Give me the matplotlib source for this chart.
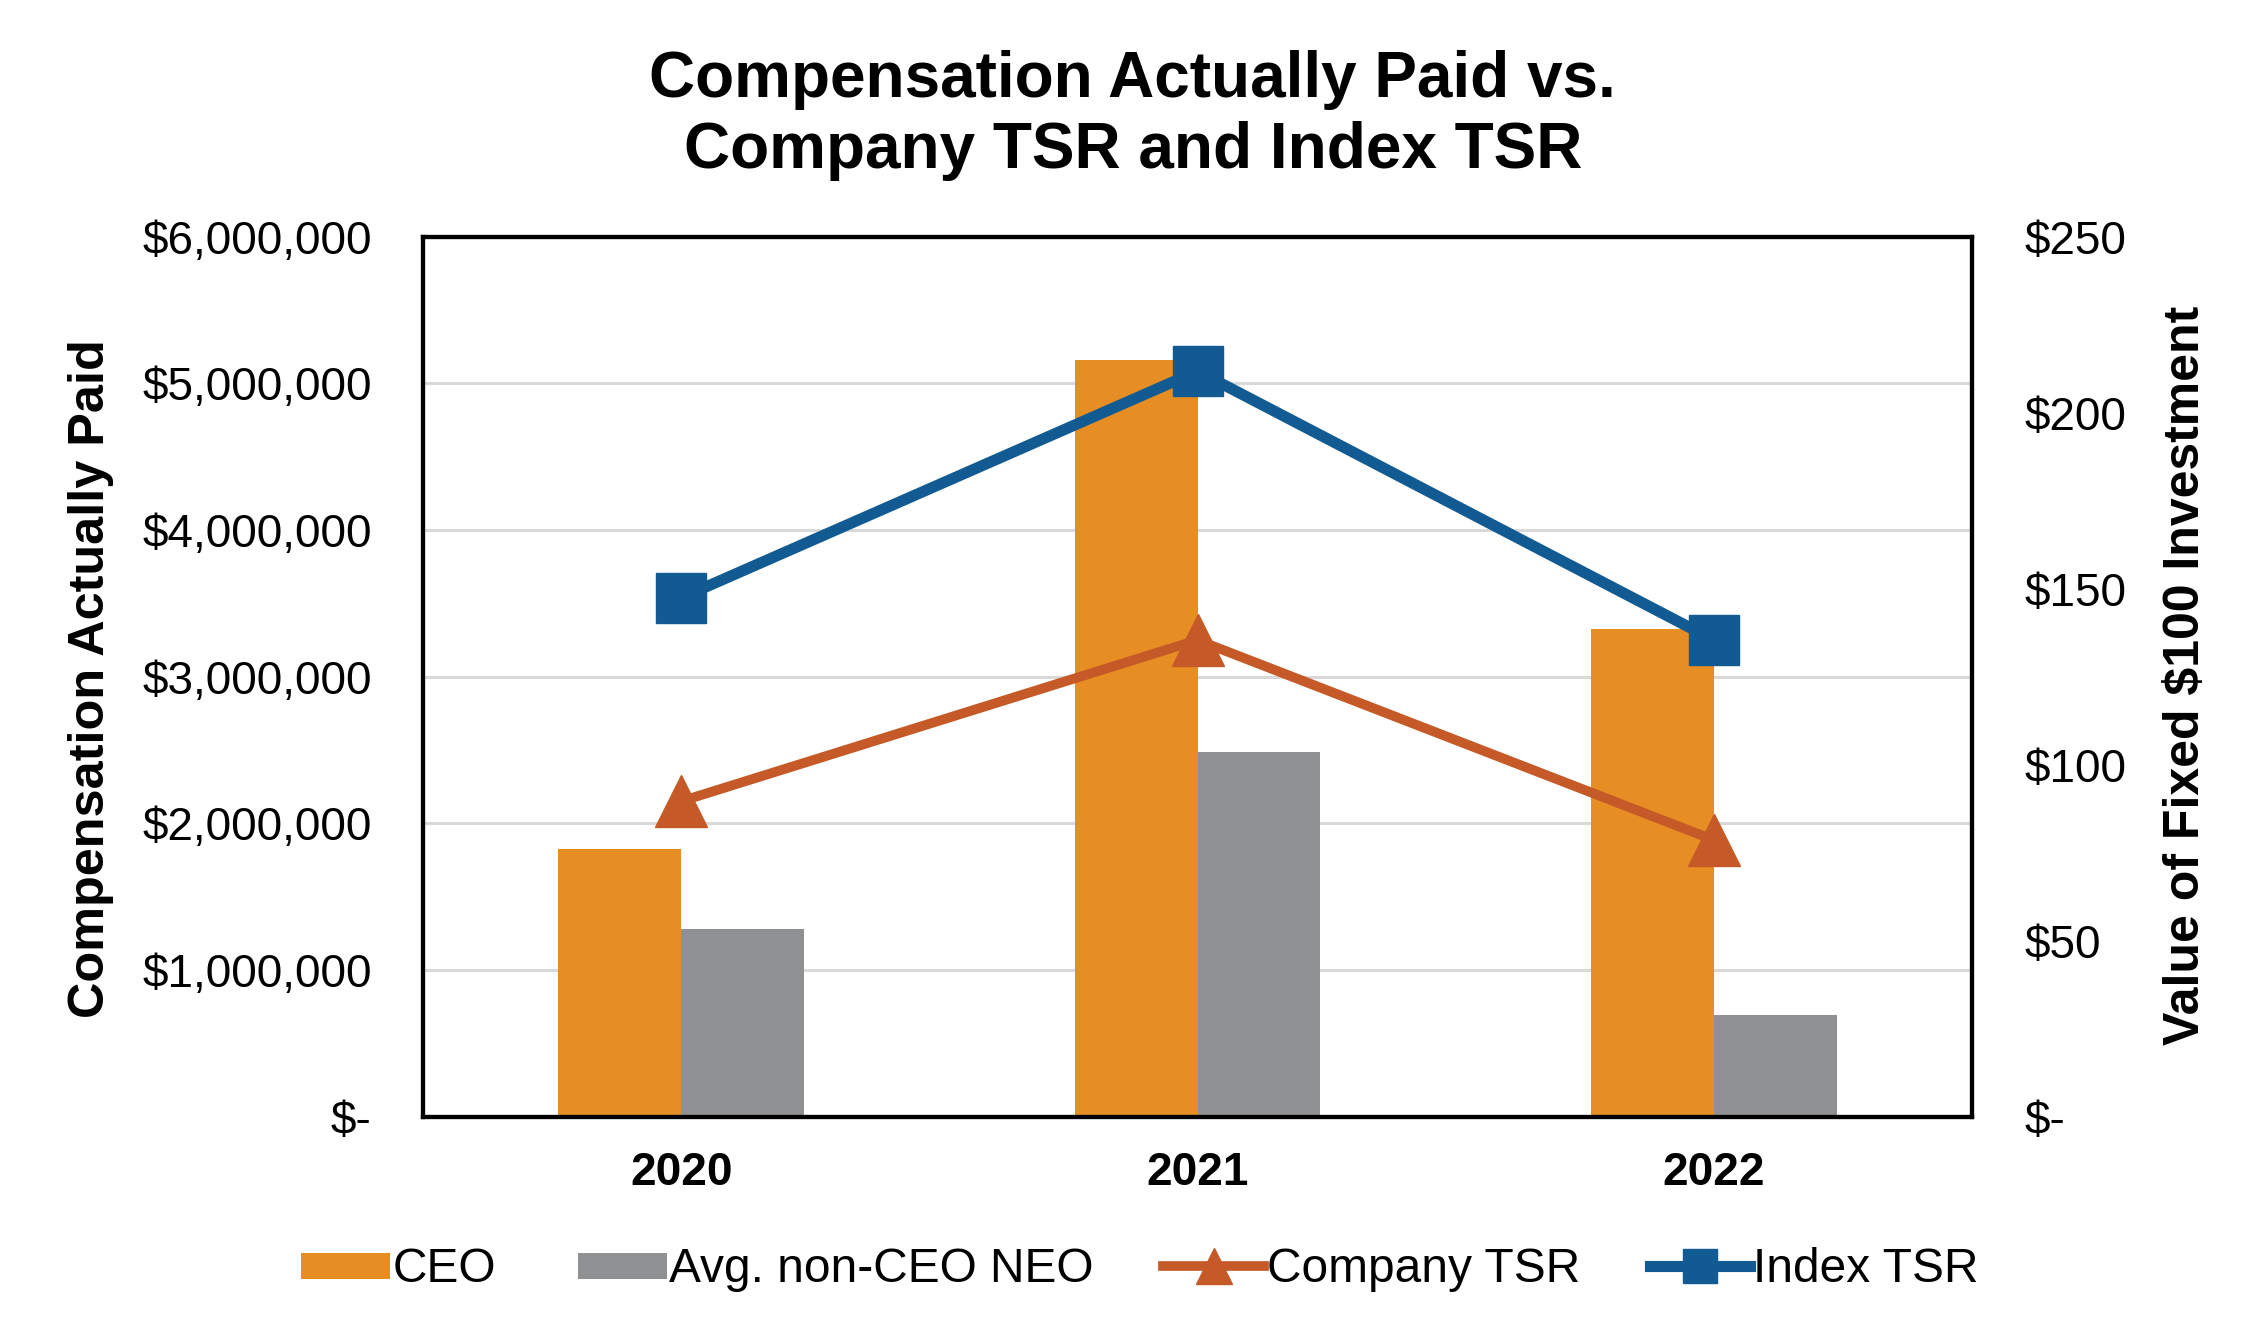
import matplotlib
matplotlib.use("Agg")
import matplotlib.pyplot as plt
import numpy as np
from matplotlib.patches import Rectangle
from matplotlib.legend_handler import HandlerPatch
from matplotlib.lines import Line2D
from matplotlib.ticker import FuncFormatter

# ---- data ----
years = ["2020", "2021", "2022"]
ceo_cap = [1823000, 5157000, 3322000]
neo_cap = [1277000, 2484000, 691000]
company_tsr = [89.6, 135.4, 78.6]
index_tsr = [147.4, 211.8, 135.4]
left_ticks = [0, 1000000, 2000000, 3000000, 4000000, 5000000, 6000000]
right_ticks = [0, 50, 100, 150, 200, 250]

# ---- style ----
plt.rcParams['font.family'] = ['Liberation Sans', 'DejaVu Sans']
C_CEO = '#E68E23'
C_NEO = '#8F9092'
C_COMP = '#C55A28'
C_IDX = '#115B92'

fig = plt.figure(figsize=(22.68, 13.34), dpi=100)
ax = fig.add_axes([0.1865, 0.1629, 0.8695 - 0.1865, 0.8226 - 0.1629])
ax2 = ax.twinx()

x = np.arange(len(years))
w = 0.238
ax.bar(x - w / 2, ceo_cap, width=w, color=C_CEO, zorder=2, label='CEO')
ax.bar(x + w / 2, neo_cap, width=w, color=C_NEO, zorder=2, label='Avg. non-CEO NEO')

ax.set_xlim(-0.5, len(years) - 0.5)
ax.set_ylim(0, 6000000)
ax.set_yticks(left_ticks)
ax.yaxis.grid(True, color='#D9D9D9', linewidth=2.2, zorder=0)
ax.set_axisbelow(True)

def money_fmt(v, pos):
    if v == 0:
        return '$-'
    return '${:,.0f}'.format(v)

ax.yaxis.set_major_formatter(FuncFormatter(money_fmt))
ax.tick_params(axis='y', length=0, pad=37, labelsize=33)
ax.set_xticks(x)
ax.set_xticklabels(years, fontsize=33, fontweight='bold')
ax.tick_params(axis='x', length=0, pad=25)

ax2.set_ylim(0, 250)
ax2.set_yticks(right_ticks)
ax2.yaxis.set_major_formatter(FuncFormatter(money_fmt))
ax2.tick_params(axis='y', length=0, pad=38, labelsize=33)

l1, = ax2.plot(x, company_tsr, color=C_COMP, linewidth=7, marker='^',
               markersize=38, zorder=3, label='Company TSR')
l2, = ax2.plot(x, index_tsr, color=C_IDX, linewidth=8, marker='s',
               markersize=36, zorder=4, label='Index TSR')

for a in (ax, ax2):
    for s in a.spines.values():
        s.set_color('black')
        s.set_linewidth(3)
ax2.set_zorder(ax.get_zorder() + 1)
ax2.patch.set_visible(False)

# titles / labels
fig.text(0.4995, 0.9135, 'Compensation Actually Paid vs.\nCompany TSR and Index TSR',
         ha='center', va='center', fontsize=46, fontweight='bold', linespacing=1.22)
fig.text(0.0401, 0.4916, 'Compensation Actually Paid', rotation=90, ha='center',
         va='center', fontsize=36.3, fontweight='bold')
fig.text(0.964, 0.4936, 'Value of Fixed $100 Investment', rotation=90, ha='center',
         va='center', fontsize=36, fontweight='bold')

# legend
class RectHandler(HandlerPatch):
    def create_artists(self, legend, orig_handle, xdescent, ydescent, width,
                       height, fontsize, trans):
        rw = width * 0.88
        rh = height * 0.78
        r = Rectangle((-xdescent + width - rw, -ydescent + (height - rh) / 2), rw, rh,
                      facecolor=orig_handle.get_facecolor(), edgecolor='none',
                      transform=trans)
        return [r]

h_ceo = Rectangle((0, 0), 1, 1, facecolor=C_CEO)
h_neo = Rectangle((0, 0), 1, 1, facecolor=C_NEO)
h_comp = Line2D([], [], color=C_COMP, linewidth=7, marker='^', markersize=26)
h_idx = Line2D([], [], color=C_IDX, linewidth=8, marker='s', markersize=25)
fig.legend([h_ceo, h_neo, h_comp, h_idx],
           ['CEO', 'Avg. non-CEO NEO', 'Company TSR', 'Index TSR'],
           handler_map={Rectangle: RectHandler()},
           loc='center', bbox_to_anchor=(0.5, 0.048), ncol=4, frameon=False,
           fontsize=34.5, handlelength=2.1, handletextpad=0.06,
           columnspacing=1.45, borderaxespad=0)

fig.savefig('out.png', dpi=100)
